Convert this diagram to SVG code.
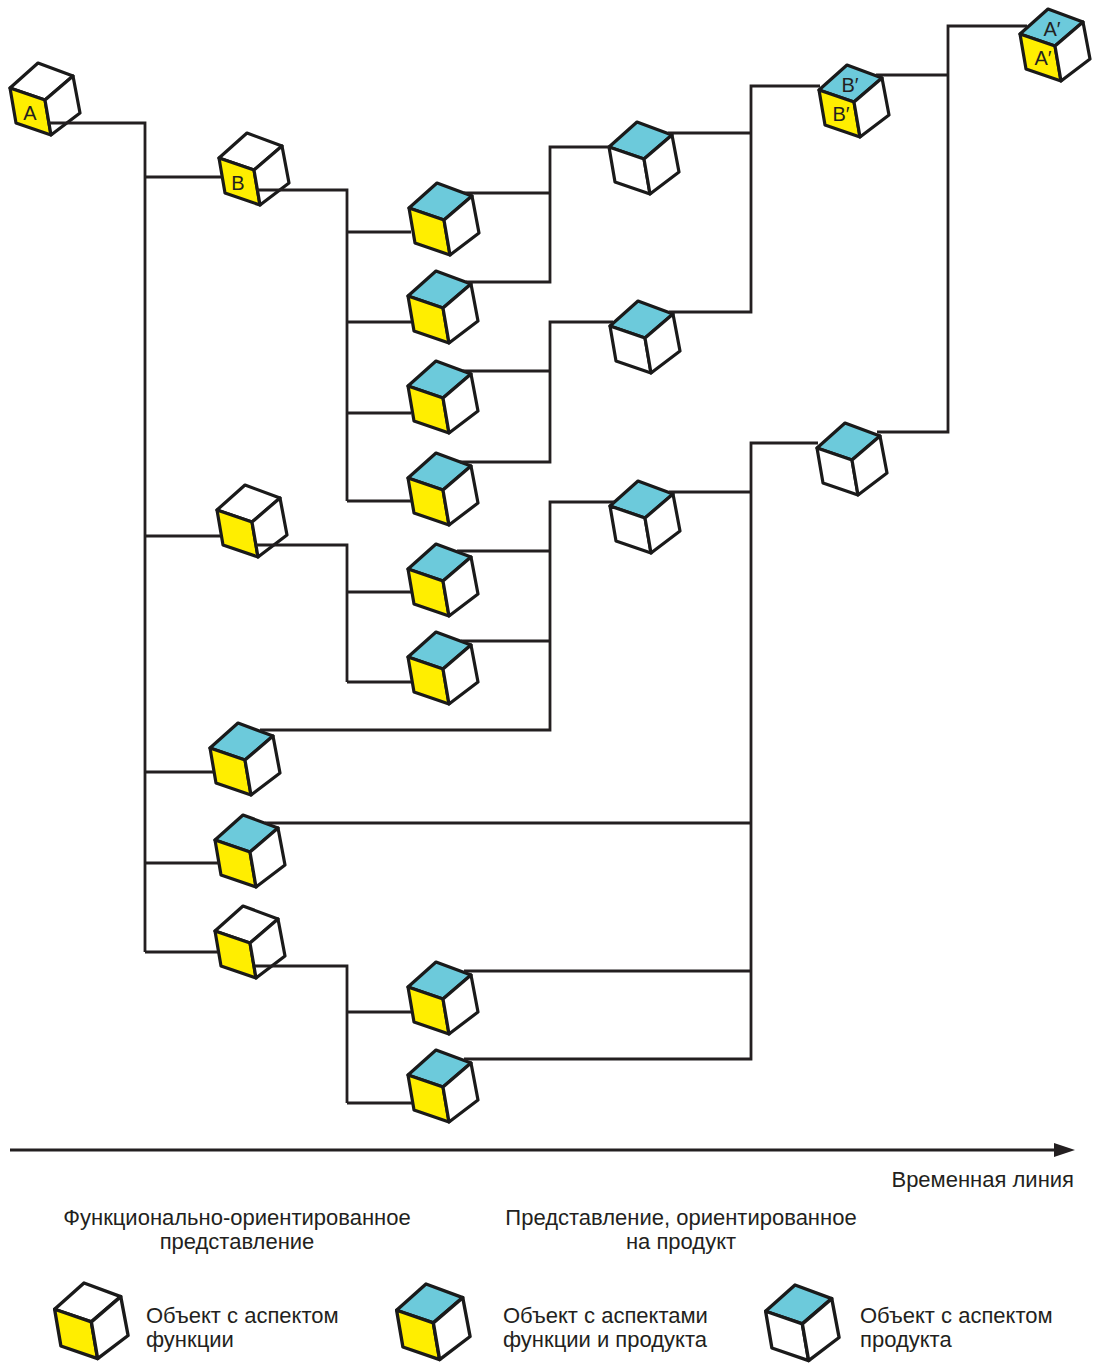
<svg xmlns="http://www.w3.org/2000/svg" xmlns:xlink="http://www.w3.org/1999/xlink" width="1102" height="1365" viewBox="0 0 1102 1365">
<style>
.face{stroke:#1a1a1a;stroke-width:3.2;stroke-linejoin:round}
.w{fill:#ffffff}
.y{fill:#ffee00}
.b{fill:#6ccadb}
.con{fill:none;stroke:#231f20;stroke-width:2.8;stroke-linecap:butt;stroke-linejoin:miter}
.t{font-family:"Liberation Sans",Arial,sans-serif;fill:#231f20}
.lbl{font-family:"Liberation Sans","DejaVu Sans",Arial,sans-serif;font-size:20px;fill:#231f20;text-anchor:middle}
.cap{font-size:22px}
.mid{text-anchor:middle}
.end{text-anchor:end}
</style>
<defs>
<g id="cubeF">
<polygon class="face w" points="0,0 35,13 7,37 -28,25"/>
<polygon class="face y" points="-28,25 7,37 13,72 -22,60"/>
<polygon class="face w" points="7,37 35,13 42,50 13,72"/>
</g>
<g id="cubeM">
<polygon class="face b" points="0,0 35,13 7,37 -28,25"/>
<polygon class="face y" points="-28,25 7,37 13,72 -22,60"/>
<polygon class="face w" points="7,37 35,13 42,50 13,72"/>
</g>
<g id="cubeP">
<polygon class="face b" points="0,0 35,13 7,37 -28,25"/>
<polygon class="face w" points="-28,25 7,37 13,72 -22,60"/>
<polygon class="face w" points="7,37 35,13 42,50 13,72"/>
</g>
</defs>
<rect x="0" y="0" width="1102" height="1365" fill="#ffffff"/>

<g id="nodes">
<g id="cube-A"><use xlink:href="#cubeF" x="38" y="63"/><text class="lbl" x="30" y="120">A</text></g>
<g id="cube-B"><use xlink:href="#cubeF" x="247" y="133"/><text class="lbl" x="238" y="190">B</text></g>
<g id="cube-f2"><use xlink:href="#cubeF" x="245" y="485"/></g>
<g id="cube-m1"><use xlink:href="#cubeM" x="238" y="723"/></g>
<g id="cube-m2"><use xlink:href="#cubeM" x="243" y="815"/></g>
<g id="cube-f3"><use xlink:href="#cubeF" x="243" y="906"/></g>
<g id="cube-c3r1"><use xlink:href="#cubeM" x="437" y="183"/></g>
<g id="cube-c3r2"><use xlink:href="#cubeM" x="436" y="271"/></g>
<g id="cube-c3r3"><use xlink:href="#cubeM" x="436" y="361"/></g>
<g id="cube-c3r4"><use xlink:href="#cubeM" x="436" y="453"/></g>
<g id="cube-c3r5"><use xlink:href="#cubeM" x="436" y="544"/></g>
<g id="cube-c3r6"><use xlink:href="#cubeM" x="436" y="632"/></g>
<g id="cube-c3r7"><use xlink:href="#cubeM" x="436" y="962"/></g>
<g id="cube-c3r8"><use xlink:href="#cubeM" x="436" y="1050"/></g>
<g id="cube-c4r1"><use xlink:href="#cubeP" x="637" y="122"/></g>
<g id="cube-c4r2"><use xlink:href="#cubeP" x="638" y="301"/></g>
<g id="cube-c4r3"><use xlink:href="#cubeP" x="638" y="481"/></g>
<g id="cube-Bp"><use xlink:href="#cubeM" x="847" y="65"/><text class="lbl" x="850" y="92">B′</text><text class="lbl" x="841" y="121">B′</text></g>
<g id="cube-c5r2"><use xlink:href="#cubeP" x="845" y="423"/></g>
<g id="cube-Ap"><use xlink:href="#cubeM" x="1048" y="9"/><text class="lbl" x="1052" y="36">A′</text><text class="lbl" x="1043" y="65">A′</text></g>
</g>

<g id="connectors">
<path class="con" d="M48,123 H145 V952"/>
<path class="con" d="M145,177 H222 M145,536 H221 M145,772 H213 M145,863 H219 M145,952 H218"/>
<path class="con" d="M257,190 H347 V501 M347,232 H411 M347,322 H411 M347,413 H411 M347,501 H411"/>
<path class="con" d="M256,545 H347 V682 M347,592 H411 M347,682 H411"/>
<path class="con" d="M255,966 H347 V1103 M347,1012 H411 M347,1103 H412"/>
<path class="con" d="M464,193 H550 M466,282 H550 V147 H609"/>
<path class="con" d="M463,371 H550 M460,462 H550 V322 H613"/>
<path class="con" d="M457,551 H550 M461,641 H550 M260,730 H550 V502 H614"/>
<path class="con" d="M668,133 H751 M669,312 H751 V86 H820"/>
<path class="con" d="M669,492 H751 M265,823 H751 M464,971 H751 M464,1059 H751 V443 H818"/>
<path class="con" d="M876,75 H948 M877,432 H948 V26 H1027"/>
</g>

<g id="timeline">
<path class="con" d="M10,1150 H1058" stroke-width="3"/>
<polygon points="1054,1143 1075,1150 1054,1157" fill="#231f20"/>
<text class="t cap end" x="1074" y="1187">Временная линия</text>
</g>

<g id="headers">
<text class="t cap mid" x="237" y="1225">Функционально-ориентированное</text>
<text class="t cap mid" x="237" y="1249">представление</text>
<text class="t cap mid" x="681" y="1225">Представление, ориентированное</text>
<text class="t cap mid" x="681" y="1249">на продукт</text>
</g>

<g id="legend">
<g id="legend-func"><use xlink:href="#cubeF" transform="translate(84,1283) scale(1.05)"/>
<text class="t cap" x="146" y="1323">Объект с аспектом</text><text class="t cap" x="146" y="1347">функции</text></g>
<g id="legend-mixed"><use xlink:href="#cubeM" transform="translate(426,1284) scale(1.05)"/>
<text class="t cap" x="503" y="1323">Объект с аспектами</text><text class="t cap" x="503" y="1347">функции и продукта</text></g>
<g id="legend-prod"><use xlink:href="#cubeP" transform="translate(795,1285) scale(1.05)"/>
<text class="t cap" x="860" y="1323">Объект с аспектом</text><text class="t cap" x="860" y="1347">продукта</text></g>
</g>
</svg>
